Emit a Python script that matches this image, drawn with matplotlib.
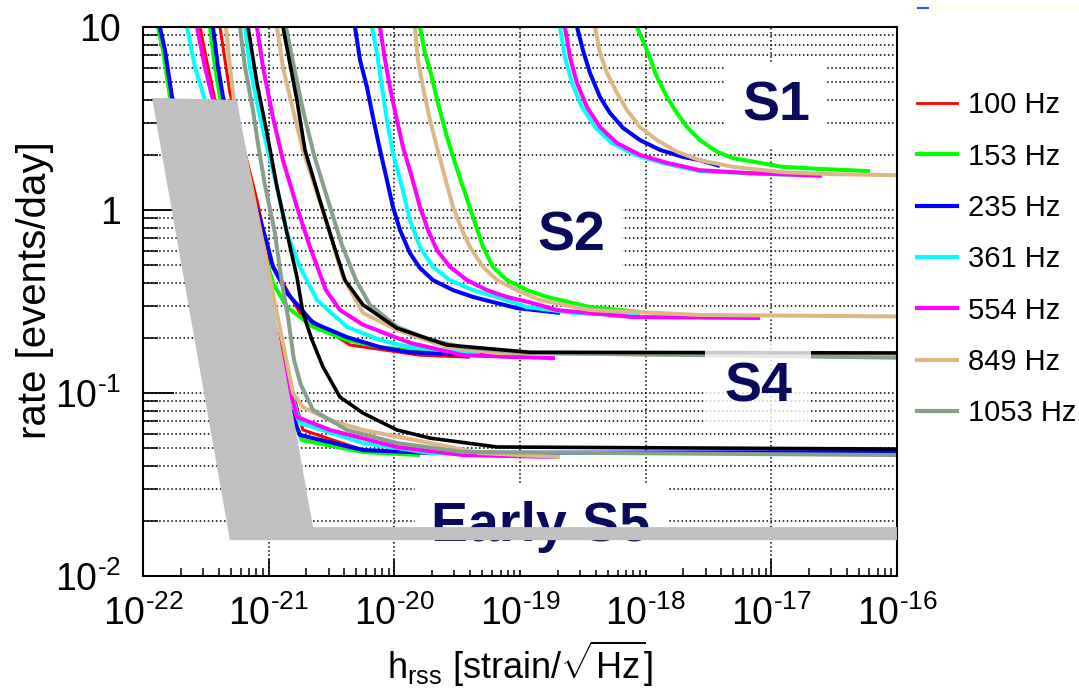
import numpy as np
import matplotlib
matplotlib.use("Agg")
import matplotlib.pyplot as plt
from matplotlib.lines import Line2D
from matplotlib.ticker import LogLocator, NullFormatter, FixedLocator

plt.rcParams['font.family'] = ['Liberation Sans', 'DejaVu Sans']
plt.rcParams['mathtext.fontset'] = 'custom'
plt.rcParams['mathtext.rm'] = 'Liberation Sans'
plt.rcParams['mathtext.it'] = 'Liberation Sans:italic'
plt.rcParams['mathtext.bf'] = 'Liberation Sans:bold'

# ===================== Data (log10 h_rss, rate in events/day) =====================

freqs = ["100 Hz", "153 Hz", "235 Hz", "361 Hz", "554 Hz", "849 Hz", "1053 Hz"]
colors = {"100 Hz": "#ff0000", "153 Hz": "#00ff00", "235 Hz": "#0000ff",
          "361 Hz": "#00ffff", "554 Hz": "#ff00ff", "849 Hz": "#dcb886",
          "1053 Hz": "#87a08b", "black": "#000000"}

# S1
s1_logh = {
    "153 Hz": [-18.069, -17.990, -17.910, -17.830, -17.751, -17.671, -17.568, -17.433, -17.305,
               -17.090, -16.907, -16.637, -16.215],
    "235 Hz": [-18.546, -18.499, -18.443, -18.363, -18.284, -18.180, -18.045, -17.886, -17.703,
               -17.568, -17.409],
    "361 Hz": [-18.682, -18.642, -18.586, -18.507, -18.403, -18.268, -18.085, -17.870, -17.568,
               -16.772, -16.597],
    "554 Hz": [-18.642, -18.602, -18.546, -18.467, -18.363, -18.228, -18.045, -17.830, -17.568,
               -17.170, -16.597],
    "849 Hz": [-18.403, -18.363, -18.308, -18.228, -18.149, -18.045, -17.910, -17.751, -17.568,
               -17.305, -16.907, -16.509, -16.0],
}
s1_rate = {
    "153 Hz": [10, 7.48, 5.33, 4.14, 3.39, 2.84, 2.41, 2.08, 1.92, 1.81, 1.72, 1.68, 1.63],
    "235 Hz": [10, 7.48, 5.61, 4.14, 3.39, 2.81, 2.41, 2.13, 1.95, 1.87, 1.74],
    "361 Hz": [10, 6.85, 4.94, 3.65, 2.84, 2.32, 2.0, 1.81, 1.63, 1.55, 1.54],
    "554 Hz": [10, 6.85, 4.94, 3.65, 2.84, 2.32, 2.0, 1.81, 1.65, 1.59, 1.54],
    "849 Hz": [10, 7.21, 5.61, 4.36, 3.52, 2.84, 2.41, 2.08, 1.87, 1.72, 1.61, 1.57, 1.55],
}

# S2
s2_logh = {
    "153 Hz": [-19.796, -19.756, -19.716, -19.653, -19.581, -19.517, -19.454, -19.374, -19.294,
               -19.215, -19.103, -18.944, -18.785, -18.443, -18.045],
    "235 Hz": [-20.313, -20.273, -20.218, -20.170, -20.114, -20.059, -20.011, -19.955, -19.876,
               -19.796, -19.693, -19.533, -19.374, -19.183, -19.024, -18.682],
    "361 Hz": [-20.178, -20.138, -20.098, -20.059, -20.011, -19.939, -19.876, -19.796, -19.693,
               -19.557, -19.374, -19.159, -18.944, -18.578, -18.045],
    "554 Hz": [-20.114, -20.074, -20.035, -19.979, -19.931, -19.860, -19.796, -19.732, -19.661,
               -19.557, -19.422, -19.263, -19.103, -18.897, -18.706, -18.101, -17.090],
    "849 Hz": [-19.836, -19.812, -19.772, -19.716, -19.661, -19.597, -19.533, -19.462, -19.398,
               -19.294, -19.183, -19.024, -18.841, -18.443, -17.568, -16.0],
}
s2_rate = {
    "153 Hz": [10, 7.21, 5.82, 3.85, 2.51, 1.81, 1.34, 0.917, 0.628, 0.489, 0.414, 0.365, 0.335,
               0.295, 0.277],
    "235 Hz": [10, 6.61, 4.70, 3.22, 2.13, 1.46, 1.04, 0.778, 0.582, 0.482, 0.414, 0.365, 0.335,
               0.310, 0.291, 0.274],
    "361 Hz": [10, 7.21, 4.70, 3.10, 2.05, 1.34, 0.881, 0.628, 0.489, 0.414, 0.365, 0.330, 0.295,
               0.274, 0.264],
    "554 Hz": [10, 6.61, 4.70, 3.10, 2.21, 1.51, 1.04, 0.778, 0.604, 0.489, 0.414, 0.365, 0.335,
               0.310, 0.284, 0.260, 0.257],
    "849 Hz": [10, 6.61, 4.70, 3.10, 2.21, 1.51, 1.04, 0.778, 0.628, 0.489, 0.414, 0.365, 0.322,
               0.284, 0.267, 0.262],
}

# S4
s4_logh = {
    "100 Hz": [-21.387, -21.308, -21.093, -20.989, -20.751, -20.353, -19.796, -19.398],
    "153 Hz": [-21.467, -21.427, -21.387, -20.966, -20.854, -20.647, -20.377, -20.114, -19.716, -19.119],
    "235 Hz": [-21.443, -21.403, -21.363, -21.013, -20.966, -20.854, -20.647, -20.377, -20.114,
               -19.876, -18.976],
    "361 Hz": [-21.188, -21.149, -21.085, -21.013, -20.934, -20.854, -20.751, -20.615, -20.377,
               -20.114, -19.876, -19.454, -19.318],
    "554 Hz": [-21.093, -21.045, -20.966, -20.886, -20.775, -20.671, -20.544, -20.432, -20.249,
               -19.876, -19.454, -18.722],
    "849 Hz": [-20.934, -20.886, -20.806, -20.727, -20.615, -20.512, -20.409, -20.249, -19.979,
               -19.581, -19.183, -16.0],
    "1053 Hz": [-20.862, -20.798, -20.727, -20.639, -20.528, -20.417, -20.305, -20.194, -19.979,
                -19.716, -19.454, -18.921, -16.0],
    "black": [-20.886, -20.775, -20.711, -20.592, -20.488, -20.393, -20.249, -19.979, -19.581,
              -18.921, -16.0],
}
s4_rate = {
    "100 Hz": [10, 4.36, 1.13, 0.533, 0.274, 0.183, 0.161, 0.157],
    "153 Hz": [10, 6.04, 4.14, 0.399, 0.295, 0.230, 0.195, 0.178, 0.167, 0.159],
    "235 Hz": [10, 6.04, 4.14, 0.661, 0.489, 0.352, 0.242, 0.202, 0.178, 0.167, 0.157],
    "361 Hz": [10, 6.04, 3.65, 2.21, 1.34, 0.748, 0.489, 0.322, 0.230, 0.195, 0.178, 0.167, 0.164],
    "554 Hz": [10, 6.04, 3.22, 1.87, 1.04, 0.628, 0.365, 0.284, 0.236, 0.188, 0.161, 0.155],
    "849 Hz": [10, 6.04, 3.52, 2.13, 1.24, 0.748, 0.431, 0.274, 0.221, 0.178, 0.1655, 0.158],
    "1053 Hz": [10, 6.04, 3.52, 2.0, 1.13, 0.644, 0.414, 0.303, 0.230, 0.195, 0.178, 0.1655, 0.156],
    "black": [10, 3.99, 2.13, 1.13, 0.661, 0.414, 0.303, 0.226, 0.183, 0.167, 0.1655],
}

# Early S5
s5_logh = {
    "100 Hz": [-21.546, -21.483, -21.427, -20.727, -20.249, -19.796],
    "153 Hz": [-21.881, -21.841, -21.785, -20.735, -20.249, -19.796],
    "235 Hz": [-21.865, -21.825, -21.769, -20.751, -20.249, -19.716, -16.0],
    "361 Hz": [-21.650, -21.586, -21.507, -20.751, -20.249, -19.716, -18.698],
    "554 Hz": [-21.570, -21.507, -21.443, -20.775, -20.512, -19.979, -19.454, -18.698],
    "849 Hz": [-21.340, -21.308, -21.276, -20.806, -20.727, -20.512, -20.249, -19.716, -19.318, -18.682],
    "1053 Hz": [-21.228, -21.188, -21.125, -21.077, -21.029, -20.950, -20.894, -20.846, -20.798,
                -20.743, -20.647, -20.377, -19.979, -19.454, -16.0],
    "black": [-21.164, -21.093, -21.013, -20.934, -20.854, -20.775, -20.727, -20.655, -20.568,
              -20.432, -20.249, -19.979, -19.716, -19.183, -16.0],
}
s5_rate = {
    "100 Hz": [10, 6.04, 3.99, 0.0628, 0.0488, 0.0458],
    "153 Hz": [10, 7.48, 4.14, 0.0553, 0.0476, 0.0458],
    "235 Hz": [10, 7.48, 4.14, 0.0589, 0.0488, 0.0470, 0.0476],
    "361 Hz": [10, 6.04, 3.99, 0.0685, 0.0533, 0.0470, 0.0447],
    "554 Hz": [10, 6.04, 3.99, 0.0739, 0.0628, 0.0507, 0.0458, 0.0447],
    "849 Hz": [10, 6.04, 3.99, 0.100, 0.0838, 0.0711, 0.0628, 0.0533, 0.0470, 0.0447],
    "1053 Hz": [10, 6.04, 3.52, 2.13, 1.37, 0.748, 0.399, 0.260, 0.151,
                0.1106, 0.0807, 0.0628, 0.0533, 0.0476, 0.0458],
    "black": [10, 4.94, 2.63, 1.34, 0.748, 0.431, 0.274, 0.195, 0.139,
              0.095, 0.0777, 0.0628, 0.0567, 0.0507, 0.0494],
}

# grey excluded region
excl_logh = [-21.928, -21.252, -20.647, -16.0, -16.0, -21.308]
excl_rate = [4.10, 3.99, 0.0185, 0.0185, 0.0157, 0.0157]

x_exp = [-22, -21, -20, -19, -18, -17, -16]
y_ticks = [0.01, 0.1, 1, 10]
y_labels = [r'$\mathregular{10^{\text{-2}}}$', r'$\mathregular{10^{\text{-1}}}$', '1', '10']

# ===================== Plotting =====================

fig = plt.figure(figsize=(10.79, 6.89), dpi=100)
ax = fig.add_axes([0.1325, 0.164, 0.6988, 0.7968])
ax.set_xscale('log')
ax.set_yscale('log')

for logh, rate in [(s1_logh, s1_rate), (s2_logh, s2_rate), (s4_logh, s4_rate), (s5_logh, s5_rate)]:
    for key in freqs + ["black"]:
        if key not in logh:
            continue
        lw = 2.2 if key == "100 Hz" else (2.6 if key == "black" else 2.9)
        ax.plot(10.0 ** np.array(logh[key]), rate[key], color=colors[key],
                lw=lw, solid_capstyle='butt', solid_joinstyle='round', zorder=2)

ax.fill(10.0 ** np.array(excl_logh), excl_rate, color='#c0c0c0', lw=0, zorder=4)

ax.set_xlim(1e-22, 1e-16)
ax.set_ylim(1e-2, 10)

ax.xaxis.set_major_locator(FixedLocator([10.0 ** e for e in x_exp]))
ax.set_xticklabels([r'$\mathregular{10^{\text{%d}}}$' % e for e in x_exp])
ax.xaxis.set_minor_locator(LogLocator(base=10, subs=np.arange(2, 10), numticks=20))
ax.xaxis.set_minor_formatter(NullFormatter())
ax.yaxis.set_major_locator(FixedLocator(y_ticks))
ax.set_yticklabels(y_labels)
ax.yaxis.set_minor_locator(LogLocator(base=10, subs=np.arange(2, 10), numticks=20))
ax.yaxis.set_minor_formatter(NullFormatter())

ax.tick_params(which='both', direction='in', top=False, right=False, colors='black')
ax.tick_params(axis='y', which='major', length=22, width=1.3, pad=16, labelsize=27)
ax.tick_params(axis='y', which='minor', length=11, width=1.1)
ax.tick_params(axis='x', which='major', length=12, width=1.2, pad=14, labelsize=27)
ax.tick_params(axis='x', which='minor', length=6, width=1.1)

ax.set_axisbelow(True)
ax.grid(which='major', axis='both', ls=':', color='black', lw=1.1)
ax.grid(which='minor', axis='y', ls=':', color='black', lw=1.1)
for sp in ax.spines.values():
    sp.set_linewidth(1.5)

ax.set_ylabel('rate [events/day]', fontsize=29)
ax.yaxis.set_label_coords(-0.143, 0.521)
ax.yaxis.label.set_va('center')
ax.set_xlabel(r'h$_{\mathregular{rss}}$ [strain/$\sqrt{\mathregular{Hz}}$]', fontsize=26)
ax.xaxis.set_label_coords(0.5, -0.16)
ax.xaxis.label.set_va('center')

run_color = '#0a0a5c'
box = dict(boxstyle='square,pad=0.3', fc='white', ec='none')
ax.text(10 ** -16.963, 3.10, 'S1', fontsize=40, fontweight='bold', color=run_color,
        ha='center', va='baseline', bbox=box, zorder=3)
ax.text(10 ** -18.590, 0.604, 'S2', fontsize=40, fontweight='bold', color=run_color,
        ha='center', va='baseline', bbox=box, zorder=3)
ax.text(10 ** -17.106, 0.0893, 'S4', fontsize=40, fontweight='bold', color=run_color,
        ha='center', va='baseline', zorder=3,
        bbox=dict(boxstyle='square,pad=0.35', fc='white', ec='none', alpha=0.8))
ax.text(10 ** -18.833, 0.01552, 'Early S5', fontsize=40, fontweight='bold', color=run_color,
        ha='center', va='baseline', bbox=box, zorder=3)

handles = [Line2D([], [], color=colors[f], lw=(2.0 if f == "100 Hz" else 3.0)) for f in freqs]
ax.legend(handles, freqs, loc='upper left', bbox_to_anchor=(1.0265, 0.883), frameon=False,
          fontsize=21, handlelength=1.37, handletextpad=0.38, labelspacing=0.8,
          borderaxespad=0, borderpad=0)

# small leftover marks at the top right corner
fig.add_artist(Line2D([918 / 1079, 930 / 1079], [1 - 8 / 689] * 2, color='#3050ff', lw=1.5))
fig.add_artist(Line2D([930 / 1079, 1.0], [1 - 8 / 689] * 2, color='#ffffd0', lw=1.5))

fig.savefig('out.png', dpi=100)
